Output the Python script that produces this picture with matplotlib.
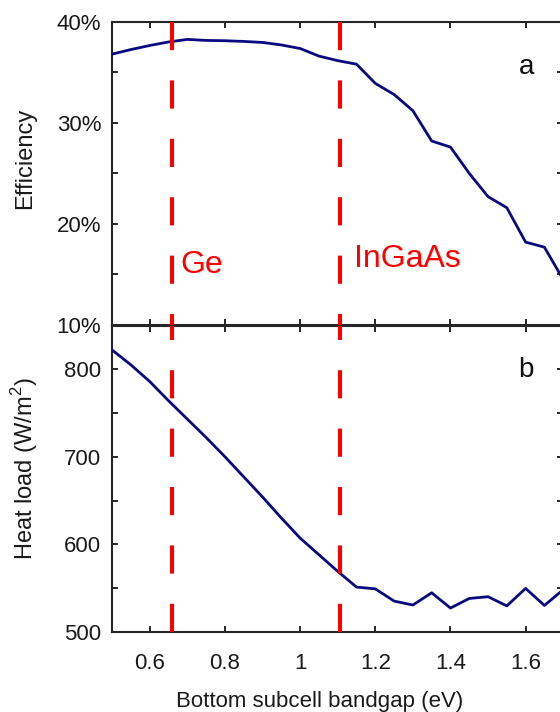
import matplotlib
matplotlib.use('Agg')
import matplotlib.pyplot as plt
from matplotlib.ticker import FixedLocator, FuncFormatter

# Configuration matplotlib
plt.rcParams['font.family'] = ['Liberation Sans', 'DejaVu Sans']
plt.rcParams['mathtext.fontset'] = 'custom'
plt.rcParams['mathtext.rm'] = 'Liberation Sans'
plt.rcParams['font.size'] = 16

# Donnees
bandgap = [0.50, 0.55, 0.60, 0.65, 0.70, 0.75, 0.80, 0.85, 0.90, 0.95, 1.00, 1.05,
           1.10, 1.15, 1.20, 1.25, 1.30, 1.35, 1.40, 1.45, 1.50, 1.55, 1.60, 1.65, 1.70]
efficiency = [36.8, 37.25, 37.65, 38.0, 38.25, 38.15, 38.12, 38.05, 37.95, 37.7, 37.35, 36.6,
              36.15, 35.8, 33.9, 32.8, 31.2, 28.2, 27.6, 25.0, 22.7, 21.6, 18.2, 17.7, 14.5]
heat_load = [822, 805, 786, 764, 743, 722, 700, 677, 654, 630, 607, 588,
             569, 551, 549, 535, 530.5, 544.5, 527, 538, 540, 529.5, 549.5, 530, 548]

materials = ['Ge', 'InGaAs']
material_gap = [0.66, 1.107]

x_ticks = [0.6, 0.8, 1.0, 1.2, 1.4, 1.6]
eff_ticks = [10, 20, 30, 40]
eff_minor = [15, 25, 35]
heat_ticks = [500, 600, 700, 800]
heat_minor = [550, 650, 750, 850]

AXIS_COLOR = '#262626'
LINE_COLOR = '#0a0a80'
RED = '#ff0000'

fig = plt.figure(figsize=(5.6, 7.12), dpi=100)
ax_top = fig.add_axes([0.2005, 0.5435, 0.8052, 0.426])
ax_bot = fig.add_axes([0.2005, 0.1128, 0.8052, 0.4298])


def style_axes(ax):
    for sp in ax.spines.values():
        sp.set_color(AXIS_COLOR)
        sp.set_linewidth(1.5)
    ax.tick_params(which='both', direction='in', length=4.3, width=1.4,
                   color=AXIS_COLOR, labelcolor='#1a1a1a',
                   top=True, right=True, labelsize=16)
    ax.tick_params(axis='x', pad=15.5)
    ax.tick_params(axis='y', pad=8)
    ax.set_xlim(0.5, 1.7)
    ax.xaxis.set_major_locator(FixedLocator(x_ticks))
    ax.xaxis.set_major_formatter(FuncFormatter(lambda v, p: '%g' % v))


# (a) Efficacite
ax_top.plot(bandgap, efficiency, color=LINE_COLOR, linewidth=2.0, zorder=3)
for gap in material_gap:
    ax_top.plot([gap, gap], [40, 10], color=RED, linewidth=2.9,
                linestyle=(0, (7, 7.5)), zorder=4, clip_on=False)
style_axes(ax_top)
ax_top.set_ylim(10, 40)
ax_top.yaxis.set_major_locator(FixedLocator(eff_ticks))
ax_top.yaxis.set_minor_locator(FixedLocator(eff_minor))
ax_top.yaxis.set_major_formatter(FuncFormatter(lambda v, p: '%d%%' % v))
ax_top.tick_params(axis='x', labelbottom=False)
ax_top.set_ylabel('Efficiency', fontsize=17, color='#1a1a1a', ha='center', va='center')
ax_top.yaxis.set_label_coords(-0.1936, 0.5506)

ax_top.text(0.6805, 15.17, materials[0], color=RED, fontsize=23, ha='left', va='baseline')
ax_top.text(1.1445, 15.77, materials[1], color=RED, fontsize=23, ha='left', va='baseline')
ax_top.text(1.603, 34.83, 'a', fontsize=20, ha='center', va='baseline', color='#111111')

# (b) Charge thermique
ax_bot.plot(bandgap, heat_load, color=LINE_COLOR, linewidth=2.0, zorder=3)
for gap in material_gap:
    ax_bot.plot([gap, gap], [500, 850], color=RED, linewidth=2.9,
                linestyle=(0, (7, 7.5)), zorder=4)
style_axes(ax_bot)
ax_bot.set_ylim(500, 850)
ax_bot.yaxis.set_major_locator(FixedLocator(heat_ticks))
ax_bot.yaxis.set_minor_locator(FixedLocator(heat_minor))
ax_bot.yaxis.set_major_formatter(FuncFormatter(lambda v, p: '%d' % v))
ax_bot.set_ylabel('Heat load (W/m$^2$)', fontsize=17, color='#1a1a1a', ha='center', va='center')
ax_bot.yaxis.set_label_coords(-0.1936, 0.5317)
ax_bot.set_xlabel('Bottom subcell bandgap (eV)', fontsize=16, color='#1a1a1a', va='baseline')
ax_bot.xaxis.set_label_coords(0.4595, -0.246)

ax_bot.text(1.602, 790.8, 'b', fontsize=20, ha='center', va='baseline', color='#111111')

fig.savefig('out.png', dpi=100)
